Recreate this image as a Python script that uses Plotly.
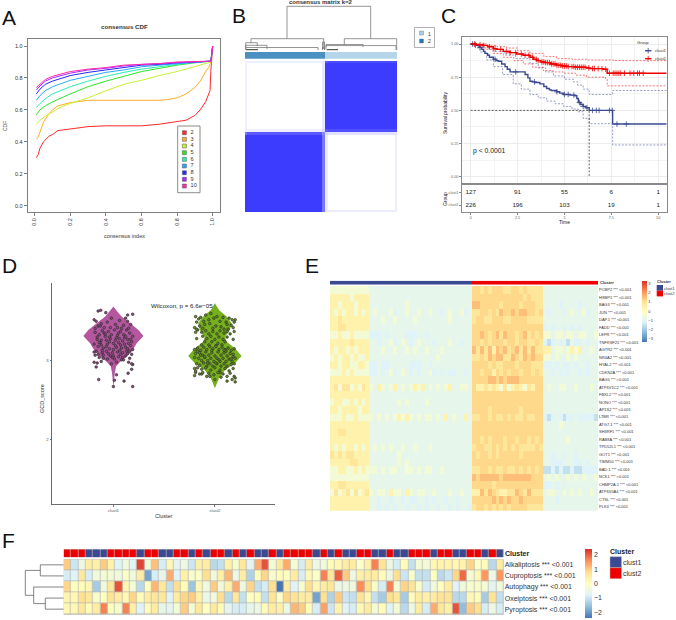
import bisect
import plotly.graph_objects as go

W, H = 676, 620
FONT = "Liberation Sans"

# ---------- Panel A: consensus CDF ----------
cdf_k = ["2", "3", "4", "5", "6", "7", "8", "9", "10"]
cdf_colors = ["#FF2A2A", "#FFAE2A", "#C8F030", "#28E828", "#28F0B0", "#28AAFF", "#2828FF", "#AA28FF", "#FF28AA"]
cdf_x = [
    [.01, .02, .03, .05, .08, .1, .13, .2, .3, .4, .5, .6, .7, .8, .85, .9, .93, .96, .98, .985, .99, 1],
    [.01, .02, .03, .04, .05, .08, .1, .13, .2, .3, .4, .5, .6, .7, .75, .8, .85, .9, .93, .96, .98, .99, 1],
    [.01, .03, .06, .1, .15, .2, .3, .4, .5, .6, .7, .8, .9, .98, .99, 1],
    [.01, .03, .06, .1, .2, .3, .4, .5, .6, .7, .8, .9, .98, .99, 1],
    [.01, .03, .06, .1, .2, .3, .4, .5, .6, .7, .8, .9, .98, .99, 1],
    [.01, .03, .06, .1, .2, .3, .4, .5, .6, .7, .8, .9, .98, .99, 1],
    [.01, .03, .06, .1, .2, .3, .4, .5, .6, .7, .8, .9, .98, .99, 1],
    [.01, .03, .06, .1, .2, .3, .4, .5, .6, .7, .8, .9, .98, .99, 1],
    [.01, .03, .06, .1, .2, .3, .4, .5, .6, .7, .8, .9, .98, .99, 1],
]
cdf_y = [
    [.30, .32, .36, .40, .435, .445, .47, .48, .495, .50, .50, .50, .51, .525, .535, .565, .60, .65, .70, .72, .85, 1],
    [.415, .43, .46, .50, .525, .575, .60, .625, .645, .66, .66, .66, .66, .66, .665, .675, .70, .74, .78, .84, .87, .90, 1],
    [.51, .535, .56, .585, .62, .64, .675, .72, .76, .785, .815, .84, .87, .895, .90, 1],
    [.57, .60, .625, .65, .70, .745, .78, .81, .84, .86, .88, .895, .90, .905, 1],
    [.615, .64, .67, .70, .745, .78, .81, .835, .855, .87, .885, .90, .905, .905, 1],
    [.66, .69, .72, .745, .785, .81, .835, .85, .87, .88, .89, .90, .905, .905, 1],
    [.70, .73, .76, .78, .815, .835, .85, .865, .88, .885, .895, .90, .905, .905, 1],
    [.725, .75, .78, .80, .83, .85, .86, .875, .885, .89, .895, .90, .905, .905, 1],
    [.74, .76, .79, .81, .84, .855, .865, .88, .885, .89, .90, .905, .905, .905, 1],
]

# ---------- Panel B: consensus matrix ----------
cm_x_edges = [0, 2.3, 76.7, 80, 83, 149.7, 152]
cm_y_edges = [0, 2.3, 68, 71, 74, 149, 151]
cm_z = [
    [.08, .08, .12, .85, .92, .92],
    [.08, 0, .12, 1, 1, 1],
    [.08, .08, .2, .85, .9, .9],
    [.7, .85, .6, .2, .15, .15],
    [1, 1, .7, .1, 0, .1],
    [1, 1, .7, .1, .1, .1],
]
cm_groups = ["1", "2"]
cm_group_colors = ["#A6CEE3", "#1F78B4"]

# ---------- Panel C: survival ----------
c1_t = [0, .2, .32, .45, .59, .68, .76, .9, 1.0, 1.21, 1.35, 1.47, 1.65, 1.83, 1.95, 2.1, 2.72, 2.9, 3.05, 3.16, 3.3, 3.43, 3.69, 3.9, 4.05, 4.2, 4.3, 4.58, 4.75, 4.94, 5.3, 5.56, 5.66, 5.74, 5.87, 6.0, 6.15, 6.32, 7.57, 10.44]
c1_s = [1, .995, .99, .975, .96, .945, .93, .915, .90, .885, .875, .87, .85, .83, .81, .79, .79, .77, .745, .72, .715, .71, .70, .68, .665, .655, .65, .64, .63, .62, .615, .61, .59, .56, .545, .53, .52, .50, .397, .397]
c1_hi_t = [0, .5, .76, 1.2, 1.83, 2.4, 3.16, 3.6, 4.0, 4.41, 5.0, 5.47, 5.7, 6.0, 6.32, 7.57, 10.44]
c1_hi_s = [1, .985, .97, .945, .917, .89, .854, .82, .79, .76, .735, .715, .69, .66, .62, .65, .65]
c1_lo_t = [0, .25, .5, .85, 1.21, 1.7, 2.27, 2.7, 3.16, 3.6, 4.05, 4.5, 4.94, 5.4, 5.74, 6.0, 6.32, 7.57, 10.44]
c1_lo_s = [1, .97, .94, .88, .83, .77, .70, .66, .62, .595, .57, .55, .53, .51, .49, .44, .40, .24, .24]
c2_t = [0, .3, .67, .9, 1.21, 1.4, 1.74, 2.1, 2.45, 2.8, 3.16, 3.35, 3.52, 3.75, 3.96, 4.25, 4.58, 4.85, 5.12, 5.6, 6.18, 6.36, 7.07, 7.28, 10.44]
c2_s = [1, .995, .99, .98, .965, .96, .945, .935, .925, .915, .90, .885, .875, .865, .86, .85, .84, .835, .83, .825, .82, .815, .81, .78, .78]
c2_hi_t = [0, .85, 1.4, 1.92, 2.5, 3.16, 3.9, 4.58, 5.4, 6.18, 7.6, 10.44]
c2_hi_s = [1, .99, .98, .97, .95, .93, .905, .89, .885, .88, .875, .875]
c2_lo_t = [0, .35, .67, 1.2, 1.74, 2.3, 2.81, 3.3, 3.87, 4.4, 4.94, 5.6, 6.18, 7.19, 7.28, 10.44]
c2_lo_s = [1, .98, .96, .93, .90, .875, .85, .825, .80, .79, .78, .765, .75, .74, .685, .685]
c1_censor = [.1, .25, .5, 1.3, 2.4, 3.4, 4.6, 5.0, 5.2, 5.5, 5.8, 6.0, 6.2, 6.5, 6.7, 6.85, 7.4, 7.55, 7.8, 8.3]
c2_censor = [.2, .5, .7, 1.0, 1.3, 1.6, 1.9, 2.1, 2.4, 2.7, 2.9, 3.1, 3.3, 3.5, 3.6, 3.8, 3.9, 4.0, 4.1, 4.2, 4.3,
             4.4, 4.5, 4.6, 4.7, 4.8, 4.9, 5.0, 5.1, 5.2, 5.4, 5.5, 5.6, 5.7, 5.8, 5.9, 6.0, 6.1, 6.3, 6.5, 6.6,
             6.8, 7.0, 7.2, 7.4, 7.6, 7.7, 7.8, 7.9, 8.0, 8.2, 8.5, 8.7, 8.9, 9.0, 9.2]
median_t = 6.32
risk_times = [0, 2.5, 5, 7.5, 10]
risk_clust1 = [127, 91, 55, 6, 1]
risk_clust2 = [226, 196, 103, 19, 1]

# ---------- Panel D: violins + jitter ----------
v1_y = [3.687, 3.645, 3.56, 3.476, 3.39, 3.314, 3.22, 3.136, 3.05, 2.987, 2.924, 2.84, 2.66]
v1_w = [0, .026, .08, .165, .247, .296, .23, .19, .13, .066, .026, .013, 0]
v2_y = [3.73, 3.645, 3.56, 3.476, 3.39, 3.305, 3.24, 3.157, 3.06, 2.967, 2.88, 2.776, 2.65]
v2_w = [0, .04, .115, .165, .148, .10, .115, .197, .263, .197, .10, .04, 0]
j1_dx = [-.15, -.125, -.075, .14, .19, -.19, -.145, 0, .19, .105, .145, .03, .01, -.17, .19, .18,
         -.17, -.12, -.15, -.06, -.02, .02, .06, .10, .14, .17, .12, -.09, -.18, .04,
         -.18, -.14, -.11, -.08, -.05, -.02, .01, .04, .07, .10, .13, .16, .19, -.16, -.12, -.07, -.03, .02, .06, .09, .14, .18,
         -.19, -.15, -.13, -.10, -.06, -.04, 0, .03, .05, .08, .11, .14, .17, .19, -.17, -.11, -.07, -.01, .04, .09, .13, -.19,
         -.18, -.14, -.10, -.06, -.03, .01, .05, .08, .12, .16, .18, -.16, -.12, -.02, .03, .15, .18, -.19,
         -.13, -.03, .08, .15, -.16, -.09, -.04, .05, .11, .17, -.12, -.07, .02, .07, .12, -.15, -.05, 0, .06, .14, -.10, -.01, .09, .16,
         -.08, .03, .12, -.14, -.04, .07, .15, -.11, 0, .10]
j1_y = [3.63, 3.64, 3.61, 3.58, 3.59, 3.52, 2.76, 2.67, 2.67, 2.74, 2.84, 2.82, 2.75, 2.92, 2.95, 2.89,
        3.50, 3.47, 3.44, 3.49, 3.54, 3.46, 3.51, 3.45, 3.50, 3.46, 3.54, 3.42, 3.41, 3.42,
        3.36, 3.33, 3.38, 3.31, 3.37, 3.33, 3.39, 3.32, 3.37, 3.33, 3.39, 3.35, 3.31, 3.27, 3.26, 3.26, 3.28, 3.26, 3.28, 3.25, 3.27, 3.24,
        3.21, 3.18, 3.23, 3.16, 3.21, 3.15, 3.22, 3.17, 3.23, 3.16, 3.21, 3.15, 3.19, 3.14, 3.12, 3.10, 3.12, 3.10, 3.11, 3.10, 3.12, 3.11,
        3.07, 3.04, 3.07, 3.02, 3.06, 3.02, 3.05, 3.01, 3.06, 3.03, 3.08, 2.97, 2.99, 2.96, 2.98, 2.98, 2.96, 2.98,
        3.44, 3.42, 3.41, 3.41, 3.30, 3.35, 3.24, 3.35, 3.29, 3.27, 3.20, 3.18, 3.19, 3.20, 3.17, 3.08, 3.09, 3.14, 3.13, 3.09, 3.03, 3.04, 3.04, 3.12,
        3.34, 3.29, 3.31, 3.23, 3.30, 3.08, 3.22, 3.13, 3.06, 3.01]
j2_dx = [-.20, -.19, -.20, .19, .20, .12, .17, 0, -.05, .05, .20, -.13,
         -.19, -.16, -.18, -.14, -.11, -.15, -.09, -.06, -.10, -.04, -.01, -.05, .02, .05, .01, .08, .11, .06, .14, .17, .12, .19, .16, .18, .20, -.20, -.12, -.02, .09, .13,
         -.17, -.13, -.09, -.06, -.02, .02, .05, .09, .12, .15, .19, -.19,
         -.12, -.08, -.04, 0, .04, .08, .12, -.10, -.03, .03, .10, -.13, -.06, .01, .07, -.18, .18,
         -.20, -.17, -.14, -.11, -.08, -.05, -.02, .01, .04, .07, .10, .13, .16, .19, -.19, -.15, -.12, -.09, -.06, -.03, 0, .03, .06, .09, .12, .15, .18,
         -.20, -.16, -.13, -.10, -.07, -.04, -.01, .02, .05, .08, .11, .14, .17, .20, -.18, -.15, -.11, -.08, -.05, -.02, .02, .06, .09, .12, .16, .19,
         -.17, -.13, -.09, -.04, 0, .05, .10, .14, .18, -.19, -.12, -.06, .03, .08, .15, -.15, -.08, -.01, .06, .12,
         -.17, -.10, -.03, .04, .11, .16, -.14, -.07, .01, .09, .18, -.18]
j2_y = [2.90, 2.85, 2.81, 2.80, 2.73, 2.74, 2.76, 2.76, 2.80, 2.85, 2.78, 2.83,
        3.56, 3.53, 3.49, 3.55, 3.50, 3.44, 3.58, 3.52, 3.46, 3.60, 3.54, 3.47, 3.56, 3.50, 3.44, 3.55, 3.49, 3.43, 3.54, 3.52, 3.46, 3.49, 3.45, 3.42, 3.52, 3.42, 3.41, 3.41, 3.40, 3.40,
        3.39, 3.36, 3.38, 3.34, 3.37, 3.34, 3.38, 3.35, 3.37, 3.34, 3.37, 3.36,
        3.31, 3.28, 3.31, 3.27, 3.30, 3.27, 3.30, 3.24, 3.24, 3.22, 3.24, 3.20, 3.20, 3.19, 3.20, 3.28, 3.27,
        3.14, 3.16, 3.13, 3.17, 3.14, 3.18, 3.15, 3.18, 3.14, 3.17, 3.14, 3.16, 3.13, 3.15, 3.09, 3.10, 3.07, 3.11, 3.07, 3.10, 3.06, 3.11, 3.07, 3.10, 3.06, 3.09, 3.05,
        3.04, 3.03, 3.00, 3.04, 3.00, 3.03, 2.99, 3.03, 2.99, 3.03, 2.99, 3.02, 2.99, 3.03, 2.96, 2.94, 2.97, 2.93, 2.96, 2.93, 2.96, 2.93, 2.96, 2.93, 2.95, 2.96,
        2.91, 2.89, 2.91, 2.88, 2.91, 2.88, 2.90, 2.87, 2.90, 2.87, 2.85, 2.84, 2.85, 2.83, 2.84, 2.83, 2.80, 2.82, 2.79, 2.80,
        3.12, 3.05, 3.13, 3.01, 3.12, 3.02, 3.07, 2.97, 2.97, 3.13, 3.08, 3.40]
wilcoxon_text = "Wilcoxon, p = 6.6e\u221205"

# ---------- Panel E: gene heat map ----------
genes = ["PCBP2", "HSBP1", "BAG3", "JUN", "DAP.1", "FADD", "LEPR", "TNFRSF25", "AGTR2", "NR4A2", "HYAL2", "CDKN2A",
         "BAG5", "ATP6V1C2", "FBXL2", "NONO", "AP1S2", "LTBR", "ATG7.1", "SH3RF1", "RAB8A", "TPD52L1", "GOT1",
         "TIMM50", "BAD.1", "NCK1", "CHMP2A.1", "ATP6V0A4", "CTSL", "PLK3"]
gene_levels = [-2.0, -1.5, -1.1, -.85, -.45, .45, .85, 1.2, 1.55, 2.1]
gene_block_sizes = [10, 26, 18, 14]
gene_rows = [
    "4444444444 33333333333333333333333333 776767776677676666 33333333333333",
    "5555545555 33333333333333333333333333 777777777777767666 33333333333333",
    "5545554555 33333333343333333333333333 887777767777677766 33332333323333",
    "5454554545 34333423343343343323433423 667767687787887767 32333234334233",
    "5565555555 33343343333433333333433333 677667776677776666 33333333333333",
    "5566555555 33333333333333333333333333 777777777777777777 23233232323333",
    "4454454444 22232333322233233333333333 778767868776786767 44344344344334",
    "5555565555 33233423432343332333433233 776767776776776676 21232313223233",
    "5455454555 33343343343433433343333333 868685878678686866 55344345453343",
    "4545545445 33333333333333333433333333 667687886687687877 44343343433333",
    "5545544554 22322333332223323333333333 777767667776777666 22323223233233",
    "4445454444 22323423432323342323223323 776775767677677676 33232323323233",
    "5555555555 33333333333333333333333333 777788787888777777 33333333333333",
    "5646645465 43543453434545343434533443 755656546456546577 34334433433343",
    "5555555555 33333333333333333333333333 777777777777777777 33333333333333",
    "4554454545 33333334343333433333333333 777777777777777777 33333333333333",
    "5545555455 33333333333333333333333333 777767777777677777 33333333333333",
    "4445445444 43434345454343443435343353 667767667676676677 21232122322221",
    "5555555555 33333333333333333333333333 777777777777777777 33334333333333",
    "5566555555 33333333333333333333333333 777777777777777777 33333333333333",
    "5555555555 33333333333333333333333333 776767776776776767 33333343333333",
    "5454554545 34343433433433343333333333 677667676767666676 33333333333333",
    "6565665555 33333334333333333333333333 767767677777677777 33233233233333",
    "5555566555 33333334343333333333333333 777777777777777777 33222333223233",
    "4455445454 44343443344343443343333333 667767667667676767 11212112112222",
    "4444444444 33333333333333333333333333 878888878888888777 34343343434334",
    "5566555555 33333333333333333333333333 777776777777777777 22323233333333",
    "4645646456 43443544354344334333433433 558687655668768666 34433434343343",
    "5555555555 33233233232233232332332333 777778787877877777 33323333333333",
    "5555555555 33232323323323233233232332 677676767677776666 33333333333333",
]
gene_cluster_counts = [36, 32]

# ---------- Panel F: cell-death heat map ----------
death_names = ["Alkaliptosis", "Cuproptosis", "Autophagy", "Oxeiptosis", "Pyroptosis"]
death_cluster = "RRRBBBRRRRBRRBBRRBRBRRBRBRBBRBRRRRBRBRBBRRBBRBBRRRBRRBBRRBRB"[:60]
alkaliptosis = [1.0, -1, -.5, .5, .4, 1.0, .3, -.8, -.4, -.7, 2.2, -.4, 1.1, -.9, .2, -.7, -.5, -1, .4, .5, -1.2, -1.1,
                .4, -.2, .6, -.7, 1.3, 2.1, -.3, .6, 1.3, -.3, -.9, .5, -.5, -.4, .1, .2, .5, .5, -.1, .4, 1.7, .7,
                -.5, -.9, .1, -1.1, -.3, -.3, .2, .3, .3, .2, .3, .9, -.1, .1, -1.2, .5]
cuproptosis = [-.9, -.8, .6, -.9, -.4, -.3, -.3, -.4, -.1, -.4, .5, -1.9, -.9, -.6, 1.3, -.8, .4, -.2, -.1, .8, -.4, .4,
               1.2, -.5, .5, -1.3, .1, .9, -.2, .1, 0, .5, -.9, .2, -.1, 1.7, .6, 2.0, 1.0, -.5, .4, .5, .5, .1,
               -.5, .8, -1, -.2, -1.1, -1.1, 0, -1.2, -1, .9, 1.9, -.3, .2, 1.5, -.5, 1.5]
autophagy = [.9, 0, .1, .2, -1.4, -.4, .6, 2.1, .2, -.3, -1.2, 0, 1.2, .6, -1.1, .8, .1, -1.5, .2, -.4, 1.0, -.4,
             .4, 1.3, -.5, .9, -1.1, -.9, .8, -2.4, .5, -.8, -.2, .8, .2, .5, .6, -.5, -.5, -.4, 1.6, .8, -.2, -.9,
             1.7, -.3, .9, .7, -.2, -.9, -.4, 0, .5, -.8, -.4, -.2, -.2, -.3, -.7, -.4]
oxeiptosis = [.3, .2, .8, .6, -.2, 0, .7, .5, .2, .9, .1, .5, .6, .6, -.8, .5, .9, 1.0, .4, -.5, -.4, .8,
              -1.2, .6, -1.1, 0, .1, -1.1, .7, -.1, .9, .7, .5, .5, -1.9, .8, -1.3, 1.0, -1, -1.1, .7, .2, -1.1, -1.4,
              .8, .6, -1.4, .1, .5, .4, .5, .7, .7, -1.2, -1.2, .2, .1, -1.4, .7, -1.1]
pyroptosis = [.2, .2, .6, .1, .5, 1.7, 0, -.2, 1.7, .4, -.8, .1, .5, -.6, -.7, -.3, 1.0, -.3, .6, 0, .6, .1,
              -.7, -.9, -.9, -.6, -.5, .1, .5, .4, -.5, 1.2, 1.0, .1, -.9, 1.4, -1, .3, -.8, -.9, .2, .5, -.3, .1,
              -.8, -.3, -1.2, -.5, .5, -.9, 1.3, .6, .4, 2.1, -1.6, 1.0, .8, -.9, -.5, -.9]

BLUE_RED = [[0, "#4575B4"], [1 / 6, "#91BFDB"], [2 / 6, "#E0F3F8"], [3 / 6, "#FFFFBF"],
            [4 / 6, "#FEE090"], [5 / 6, "#FC8D59"], [1, "#D73027"]]
CL_COLORS = ["#3B4992", "#EE0000"]


def px(x):
    return x / W


def py(y):
    return 1 - y / H


layout = {}
traces = []
annots = []
shapes = []
n_ax = [0]


def new_axes(x0, x1, y0, y1, xopts=None, yopts=None):
    """Create an x/y axis pair over the pixel box (x0..x1, y0..y1, y downward)."""
    n_ax[0] += 1
    i = n_ax[0]
    sx = "" if i == 1 else str(i)
    base = dict(showgrid=False, zeroline=False, showline=False, showticklabels=False, ticks="")
    xa = dict(base, domain=[px(x0), px(x1)], anchor="y" + sx)
    ya = dict(base, domain=[py(y1), py(y0)], anchor="x" + sx)
    xa.update(xopts or {})
    ya.update(yopts or {})
    layout["xaxis" + sx] = xa
    layout["yaxis" + sx] = ya
    return "x" + sx, "y" + sx


def text(x, y, s, size=6, color="#333", bold=False, anchor="center", angle=0):
    annots.append(dict(x=px(x), y=py(y), xref="paper", yref="paper", text=("<b>%s</b>" % s) if bold else s,
                       showarrow=False, xanchor=anchor, yanchor="middle", textangle=angle,
                       font=dict(size=size, color=color, family=FONT), borderpad=0, borderwidth=0))


def rect(x0, y0, x1, y1, fill=None, line=None, lw=0.8, layer="above"):
    shapes.append(dict(type="rect", xref="paper", yref="paper", x0=px(x0), x1=px(x1), y0=py(y0), y1=py(y1),
                       fillcolor=fill or "rgba(0,0,0,0)", line=dict(color=line or "rgba(0,0,0,0)", width=lw if line else 0),
                       layer=layer))


for letter, lx, ly in [("A", 2, 17), ("B", 232, 16), ("C", 441, 16), ("D", 2, 265), ("E", 305, 265), ("F", 2, 540)]:
    text(lx, ly, letter, size=21, color="#111", anchor="left")

# ---- Panel A ----
xa, ya = new_axes(27.7, 220, 39, 212,
                  dict(range=[-.039, 1.041], showline=True, mirror=True, linecolor="#808080", linewidth=1,
                       showticklabels=True, tickvals=[0, .2, .4, .6, .8, 1], ticktext=["0.0", "0.2", "0.4", "0.6", "0.8", "1.0"],
                       tickangle=-90, ticks="outside", ticklen=3, tickcolor="#808080", tickwidth=.7,
                       tickfont=dict(size=5.5, color="#333", family=FONT)),
                  dict(range=[-.04, 1.044], showline=True, mirror=True, linecolor="#808080", linewidth=1,
                       showticklabels=True, tickvals=[0, .2, .4, .6, .8, 1], ticktext=["0.0", "0.2", "0.4", "0.6", "0.8", "1.0"],
                       ticks="outside", ticklen=3, tickcolor="#808080", tickwidth=.7,
                       tickfont=dict(size=5.5, color="#333", family=FONT)))
for k, c, xs, ys in zip(cdf_k, cdf_colors, cdf_x, cdf_y):
    traces.append(go.Scatter(x=xs, y=ys, mode="lines", line=dict(color=c, width=1), xaxis=xa, yaxis=ya,
                             showlegend=False, name=k))
text(124, 26.5, "consensus CDF", size=6.2, bold=True)
text(124, 236, "consensus index", size=5.5, bold=False)
text(5, 126, "CDF", size=5, angle=-90)
rect(177.7, 126, 200, 192.7, line="#707070", lw=.8)
lg_x, lg_y = new_axes(177.7, 200, 126, 192.7, dict(range=[0, 1]), dict(range=[9, -1]))
traces.append(go.Scatter(x=[.3] * len(cdf_k), y=list(range(len(cdf_k))), mode="markers", xaxis=lg_x, yaxis=lg_y,
                         marker=dict(symbol="square", size=4, color=cdf_colors, line=dict(color="#555", width=.5)),
                         showlegend=False))
traces.append(go.Scatter(x=[.58] * len(cdf_k), y=list(range(len(cdf_k))), mode="text", text=cdf_k, textposition="middle right",
                         textfont=dict(size=5.5, color="#333", family=FONT), xaxis=lg_x, yaxis=lg_y, showlegend=False))

# ---- Panel B ----
xa, ya = new_axes(245, 397, 61, 212, dict(range=[0, 152]), dict(range=[151, 0]))
traces.append(go.Heatmap(x=cm_x_edges, y=cm_y_edges, z=cm_z, zmin=0, zmax=1, showscale=False, xaxis=xa, yaxis=ya,
                         colorscale=[[0, "#FFFFFF"], [1, "#3C3CFF"]], hoverinfo="skip"))
xa, ya = new_axes(245, 397, 52, 58.7, dict(range=[0, 152]), dict(range=[0, 1]))
traces.append(go.Heatmap(x=[0, 80, 152], y=[0, 1], z=[[0, 1]], zmin=0, zmax=1, showscale=False, xaxis=xa, yaxis=ya,
                         colorscale=[[0, "#4A90C0"], [1, "#B5D6E8"]], hoverinfo="skip"))
text(321, 2.5, "consensus matrix k=2", size=6, bold=True)
rect(414.5, 27.5, 434.5, 47.5, line="#909090", lw=.7)
rect(419.5, 31, 423.5, 35, fill=cm_group_colors[0], line="#777", lw=.4)
rect(419.5, 39, 423.5, 43, fill=cm_group_colors[1], line="#777", lw=.4)
text(428, 33.5, cm_groups[0], size=5, anchor="left")
text(428, 41, cm_groups[1], size=5, anchor="left")

# overlay axes in pixel units for the dendrograms and the legend keys of panel C
ov_x, ov_y = new_axes(0, W, 0, H, dict(range=[0, W]), dict(range=[H, 0]))
dend_b = [(287, 370.7, 6.3, 38.7, 38.7), (251, 323.7, 38.7, 43, 47), (344.3, 396.7, 38.7, 45, 50),
          (245.7, 257.3, 42.7, 47, 46), (245.7, 267, 45.3, 49, 49), (245.7, 318, 47.5, 50, 50),
          (326, 363, 44.5, 47, 47), (326, 396, 45.6, 50, 50), (322.5, 324.5, 42, 50, 50)]


def bracket_xy(items):
    xs, ys = [], []
    for x0, x1, top, b0, b1 in items:
        xs += [x0, x0, x1, x1, None]
        ys += [b0, top, top, b1, None]
    return xs, ys


bx, by = bracket_xy(dend_b)
traces.append(go.Scatter(x=bx, y=by, mode="lines", line=dict(color="#7A7A7A", width=.8), xaxis=ov_x, yaxis=ov_y,
                         showlegend=False, hoverinfo="skip"))
traces.append(go.Scatter(x=[246, 258, None, 322.5, 324.5, None, 327, 338], y=[49.7, 49.7, None, 48, 48, None, 49.7, 49.7],
                         mode="lines", line=dict(color="#333", width=1), xaxis=ov_x, yaxis=ov_y, showlegend=False,
                         hoverinfo="skip"))

# ---- Panel C ----
GRID = "#ECECEC"


def step(ts, ss, t):
    return ss[max(bisect.bisect_right(ts, t) - 1, 0)]


xa, ya = new_axes(461.7, 667, 37, 183,
                  dict(range=[-.48, 10.47], showgrid=True, gridcolor=GRID, gridwidth=.6, tickvals=[0, 2.5, 5, 7.5, 10],
                       showline=True, mirror=True, linecolor="#8a8a8a", linewidth=1,
                       minor=dict(dtick=1.25, showgrid=True, gridcolor="#F3F3F3", gridwidth=.4)),
                  dict(range=[-.047, 1.053], showgrid=True, gridcolor=GRID, gridwidth=.6, tickvals=[0, .25, .5, .75, 1],
                       ticktext=["0.00", "0.25", "0.50", "0.75", "1.00"], showticklabels=True,
                       tickfont=dict(size=3.8, color="#666", family=FONT), showline=True, mirror=True,
                       linecolor="#8a8a8a", linewidth=1, ticks="outside", ticklen=1.5, tickcolor="#888", tickwidth=.5,
                       minor=dict(dtick=.125, showgrid=True, gridcolor="#F3F3F3", gridwidth=.4)))
KM_BLUE, KM_RED = "#3B4992", "#EE0000"
for ts, ss, c in [(c1_hi_t, c1_hi_s, KM_BLUE), (c1_lo_t, c1_lo_s, KM_BLUE), (c2_hi_t, c2_hi_s, KM_RED), (c2_lo_t, c2_lo_s, KM_RED)]:
    traces.append(go.Scatter(x=ts, y=ss, mode="lines", line=dict(color=c, width=.7, shape="hv", dash="2px,1.5px"),
                             opacity=.75, xaxis=xa, yaxis=ya, showlegend=False))
traces.append(go.Scatter(x=[0, median_t, median_t], y=[.5, .5, 0], mode="lines",
                         line=dict(color="#222", width=.7, dash="2px,1.5px"), xaxis=xa, yaxis=ya, showlegend=False))
for ts, ss, cens, c in [(c1_t, c1_s, c1_censor, KM_BLUE), (c2_t, c2_s, c2_censor, KM_RED)]:
    traces.append(go.Scatter(x=ts, y=ss, mode="lines", line=dict(color=c, width=1.4, shape="hv"), xaxis=xa, yaxis=ya,
                             showlegend=False))
    traces.append(go.Scatter(x=cens, y=[step(ts, ss, t) for t in cens], mode="markers", xaxis=xa, yaxis=ya,
                             marker=dict(symbol="cross-thin", size=4, line=dict(color=c, width=.8)), showlegend=False))
annots.append(dict(x=0, y=.196, xref=xa, yref=ya, text="p < 0.0001", showarrow=False, xanchor="left", yanchor="middle",
                   font=dict(size=6.8, color="#222", family=FONT)))
text(643, 42.3, "Group", size=4.2, anchor="center")
for lbl, yy, c in [("clust1", 50.7, KM_BLUE), ("clust2", 58.7, KM_RED)]:
    traces.append(go.Scatter(x=[645, 651.5], y=[yy, yy], mode="lines", line=dict(color=c, width=1.2), xaxis=ov_x, yaxis=ov_y,
                             showlegend=False, hoverinfo="skip"))
    traces.append(go.Scatter(x=[648.2], y=[yy], mode="markers", marker=dict(symbol="cross-thin", size=4, line=dict(color=c, width=.8)),
                             xaxis=ov_x, yaxis=ov_y, showlegend=False, hoverinfo="skip"))
    text(655, yy, lbl, size=4.2, anchor="left")
text(445, 113, "Survival probability", size=5, angle=-90, color="#222")

xa, ya = new_axes(461.7, 667, 185, 212,
                  dict(range=[-.48, 10.47], showline=True, mirror=True, linecolor="#8a8a8a", linewidth=1,
                       tickvals=risk_times, ticktext=["0", "2.5", "5", "7.5", "10"], showticklabels=True,
                       tickfont=dict(size=3.8, color="#666", family=FONT), ticks="outside", ticklen=1.5, tickcolor="#888", tickwidth=.5),
                  dict(range=[-.55, 1.575], showline=True, mirror=True, linecolor="#8a8a8a", linewidth=1,
                       tickvals=[0, 1], ticktext=["clust2", "clust1"], showticklabels=True,
                       tickfont=dict(size=3.8, color="#666", family=FONT), ticks="outside", ticklen=1.5, tickcolor="#888", tickwidth=.5))
traces.append(go.Scatter(x=risk_times, y=[1] * 5, mode="text", text=[str(v) for v in risk_clust1], xaxis=xa, yaxis=ya,
                         textfont=dict(size=6.2, color="#222", family=FONT), showlegend=False))
traces.append(go.Scatter(x=risk_times, y=[0] * 5, mode="text", text=[str(v) for v in risk_clust2], xaxis=xa, yaxis=ya,
                         textfont=dict(size=6.2, color="#222", family=FONT), showlegend=False))
text(445, 199, "Group", size=5, angle=-90, color="#222")
text(564, 222, "Time", size=5, color="#222")

# ---- Panel D ----
xa, ya = new_axes(52, 275.3, 283.3, 504.3,
                  dict(range=[.395, 2.595], showline=True, linecolor="#6a6a6a", linewidth=1, tickvals=[1, 2],
                       ticktext=["clust1", "clust2"], showticklabels=True, ticks="outside", ticklen=1.5, tickcolor="#777", tickwidth=.5,
                       tickfont=dict(size=4.2, color="#555", family=FONT)),
                  dict(range=[1.174, 3.983], showline=True, linecolor="#6a6a6a", linewidth=1, tickvals=[2, 3],
                       ticktext=["2", "3"], showticklabels=True, ticks="outside", ticklen=1.5, tickcolor="#777", tickwidth=.5,
                       tickfont=dict(size=4.2, color="#555", family=FONT)))
for centre, vy, vw, jx, jy, col, dot in [(1, v1_y, v1_w, j1_dx, j1_y, "#B5579F", "#8E4A80"), (2, v2_y, v2_w, j2_dx, j2_y, "#76B01C", "#648F22")]:
    traces.append(go.Scatter(x=[centre - w for w in vw] + [centre + w for w in reversed(vw)], y=vy + vy[::-1], mode="lines",
                             fill="toself", fillcolor=col, line=dict(width=0, color=col), xaxis=xa, yaxis=ya, showlegend=False))
    traces.append(go.Scatter(x=[centre + d for d in jx], y=jy, mode="markers", xaxis=xa, yaxis=ya, showlegend=False,
                             marker=dict(symbol="circle", size=2.6, color=dot, line=dict(color="#2A2A2A", width=.65))))
annots.append(dict(x=1.678, y=3.70, xref=xa, yref=ya, text=wilcoxon_text, showarrow=False, xanchor="center", yanchor="middle",
                   font=dict(size=6.2, color="#222", family=FONT)))
text(164, 516, "Cluster", size=5.5, color="#333")
text(42, 399, "GCD_score", size=5.5, angle=-90, color="#333")

# ---- Panel E ----
gene_z = []
for row in gene_rows:
    cells = "".join(g[:n].ljust(n, g[-1]) for g, n in zip(row.split(), gene_block_sizes))
    gene_z.append([gene_levels[int(ch)] for ch in cells])
gene_labels = ["%s *** &lt;0.001" % g for g in genes]
xa, ya = new_axes(330, 598, 286, 510.7, dict(range=[-.5, 67.5]),
                  dict(range=[29.5, -.5], side="right", tickvals=list(range(30)), ticktext=gene_labels, showticklabels=True,
                       tickfont=dict(size=4, color="#333", family=FONT)))
traces.append(go.Heatmap(z=gene_z, zmin=-3.3, zmax=3.3, colorscale=BLUE_RED, xaxis=xa, yaxis=ya, hoverinfo="skip",
                         colorbar=dict(x=px(642), y=py(280.7), xanchor="left", yanchor="top", lenmode="pixels", len=61,
                                       thicknessmode="pixels", thickness=4.5, xpad=0, ypad=0, outlinewidth=0, ticks="",
                                       tickvals=[-3, -2, -1, 0, 1, 2, 3], ticktext=["\u22123", "\u22122", "\u22121", "0", "1", "2", "3"],
                                       tickfont=dict(size=4, color="#333", family=FONT))))
xa, ya = new_axes(330, 598, 280.7, 284.7, dict(range=[-.5, 67.5]), dict(range=[-.5, .5]))
traces.append(go.Heatmap(z=[[0] * gene_cluster_counts[0] + [1] * gene_cluster_counts[1]], zmin=0, zmax=1, showscale=False, xaxis=xa, yaxis=ya,
                         colorscale=[[0, CL_COLORS[0]], [.5, CL_COLORS[0]], [.5, CL_COLORS[1]], [1, CL_COLORS[1]]], hoverinfo="skip"))
text(599.5, 282.7, "Cluster", size=4, bold=True, anchor="left")
text(656.5, 281.7, "Cluster", size=4, bold=True, anchor="left")
rect(656.7, 285, 663, 290.7, fill=CL_COLORS[0])
rect(656.7, 290.7, 663, 296.4, fill=CL_COLORS[1])
text(664, 288, "clust1", size=4, anchor="left")
text(664, 293.6, "clust2", size=4, anchor="left")

# ---- Panel F ----
death_z = [alkaliptosis, cuproptosis, autophagy, oxeiptosis, pyroptosis]
death_labels = ["%s *** &lt;0.001" % n for n in death_names]
rect(63.7, 559.3, 503.7, 614.7, fill="#B5B5B5", layer="below")
xa, ya = new_axes(63.7, 503.7, 559.3, 614.7, dict(range=[-.5, 59.5]),
                  dict(range=[4.5, -.5], side="right", tickvals=list(range(5)), ticktext=death_labels, showticklabels=True,
                       tickfont=dict(size=7, color="#333", family=FONT)))
traces.append(go.Heatmap(z=death_z, zmin=-2.4, zmax=2.4, colorscale=BLUE_RED, xaxis=xa, yaxis=ya, xgap=.7, ygap=.7, hoverinfo="skip",
                         colorbar=dict(x=px(584.7), y=py(549), xanchor="left", yanchor="top", lenmode="pixels", len=68.7,
                                       thicknessmode="pixels", thickness=7.3, xpad=0, ypad=0, outlinewidth=0, ticks="",
                                       tickvals=[-2, -1, 0, 1, 2], ticktext=["\u22122", "\u22121", "0", "1", "2"],
                                       tickfont=dict(size=7, color="#333", family=FONT))))
rect(63.7, 549.3, 503.7, 557.3, fill="#B5B5B5", layer="below")
xa, ya = new_axes(63.7, 503.7, 549.3, 557.3, dict(range=[-.5, 59.5]), dict(range=[-.5, .5]))
traces.append(go.Heatmap(z=[[1 if ch == "R" else 0 for ch in death_cluster]], zmin=0, zmax=1, showscale=False, xaxis=xa, yaxis=ya, xgap=.7,
                         colorscale=[[0, CL_COLORS[0]], [.5, CL_COLORS[0]], [.5, CL_COLORS[1]], [1, CL_COLORS[1]]], hoverinfo="skip"))
text(505, 553.5, "Cluster", size=7, bold=True, anchor="left", color="#222")
text(610, 551.7, "Cluster", size=7, bold=True, anchor="left", color="#222")
rect(610, 556.7, 621.5, 567.7, fill=CL_COLORS[0], line="#BBBBBB", lw=.5)
rect(610, 567.7, 621.5, 578.7, fill=CL_COLORS[1], line="#BBBBBB", lw=.5)
text(622.7, 562, "clust1", size=7, anchor="left")
text(622.7, 573, "clust2", size=7, anchor="left")

# dendrogram of the five rows
ROW_H = 55.4 / 5
row_y = [559.3 + ROW_H * (i + .5) for i in range(5)]
d_a = (row_y[0] + row_y[1]) / 2
d_b = (row_y[3] + row_y[4]) / 2
d_c = (row_y[2] + d_b) / 2
LEAF = 63.5
segs_f = [(40.3, LEAF, LEAF, row_y[0], row_y[1]), (45.3, LEAF, LEAF, row_y[3], row_y[4]),
          (33.7, LEAF, 45.3, row_y[2], d_b), (25.3, 40.3, 33.7, d_a, d_c)]
fx, fy = [], []
for xl, xr0, xr1, y0_, y1_ in segs_f:
    fx += [xr0, xl, xl, xr1, None]
    fy += [y0_, y0_, y1_, y1_, None]
traces.append(go.Scatter(x=fx, y=fy, mode="lines", line=dict(color="#666", width=.8),
                         xaxis=ov_x, yaxis=ov_y, showlegend=False, hoverinfo="skip"))

fig = go.Figure(data=traces)
fig.update_layout(width=W, height=H, autosize=False, margin=dict(l=0, r=0, t=0, b=0), paper_bgcolor="white",
                  plot_bgcolor="rgba(0,0,0,0)", font=dict(family=FONT), annotations=annots, shapes=shapes, showlegend=False,
                  **layout)
fig.write_html("out.html", config={"displayModeBar": False},
               post_script="document.body.style.margin='0';document.body.style.overflow='hidden';")
